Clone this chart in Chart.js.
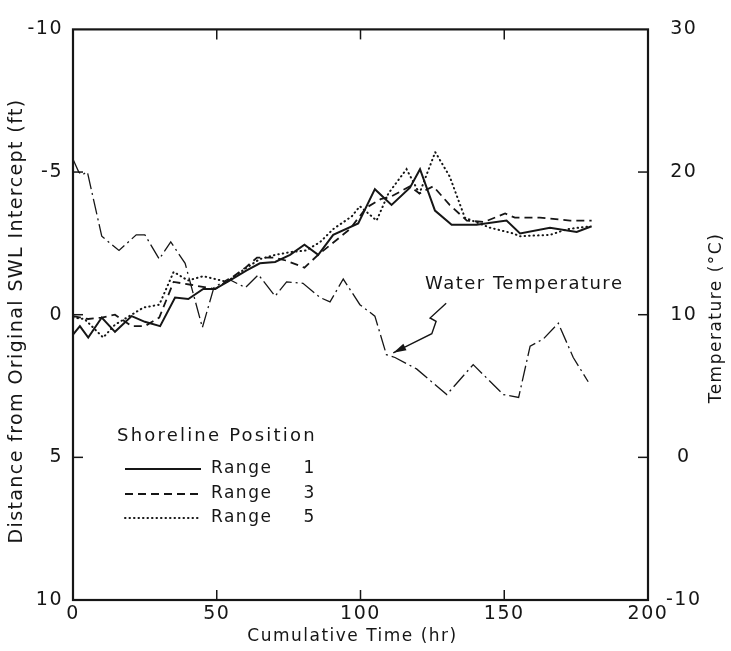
<!DOCTYPE html>
<html lang="en">
<head>
<meta charset="utf-8">
<title>Shoreline Position</title>
<script src="https://cdn.jsdelivr.net/npm/chart.js@4.4.1/dist/chart.umd.min.js"></script>
<style>
    html, body { margin: 0; padding: 0; background: #fff; }
    #contenedor { position: relative; width: 731px; height: 651px; }
</style>
</head>
<body>
<div id="contenedor"><canvas id="grafico" width="731" height="651"></canvas></div>
<script>
// Datos (horas acumuladas, distancia en ft, temperatura en °C)
const horasRango1 = [0, 2.4, 5.3, 10, 14.6, 20.4, 25, 30.3, 35.5, 40.1, 45.3, 49.4, 54.6, 60.4, 65, 70.3, 75.5, 80.5, 85.3, 90.5, 99.2, 105, 110.8, 117.2, 120.7, 125.9, 131.7, 140.4, 150.8, 155.5, 165.9, 175.2, 180.4];
const distRango1 = [0.7, 0.4, 0.8, 0.1, 0.6, 0.05, 0.25, 0.4, -0.6, -0.55, -0.9, -0.9, -1.2, -1.55, -1.8, -1.85, -2.1, -2.45, -2.1, -2.8, -3.2, -4.4, -3.85, -4.45, -5.1, -3.65, -3.15, -3.15, -3.3, -2.85, -3.05, -2.9, -3.1];

const horasRango3 = [0, 5.3, 10, 14.6, 20.4, 25, 30, 35, 41, 49.4, 54.6, 60, 64, 70, 74, 80.5, 85.3, 96.3, 102, 107, 110.8, 117.2, 120.5, 125.3, 131, 137, 143, 150.3, 153.7, 162.4, 172.9, 180.4];
const distRango3 = [0.05, 0.15, 0.1, 0, 0.4, 0.4, 0.1, -1.15, -1.05, -0.9, -1.25, -1.65, -2.0, -2.0, -1.9, -1.65, -2.1, -3.0, -3.75, -4.05, -4.15, -4.5, -4.25, -4.5, -3.85, -3.3, -3.25, -3.55, -3.4, -3.4, -3.3, -3.3];

const horasRango5 = [0, 4, 10.5, 14.6, 20.4, 24.5, 30, 35, 40, 45.3, 53.5, 60.4, 65, 70.5, 76, 81, 86, 90.5, 97, 99.8, 105.6, 109.7, 116, 120.5, 126, 131, 136.3, 145, 153, 155.5, 166, 172, 180];
const distRango5 = [0.1, 0.15, 0.8, 0.35, 0, -0.25, -0.35, -1.5, -1.2, -1.35, -1.15, -1.65, -1.95, -2.1, -2.2, -2.25, -2.55, -3.0, -3.45, -3.8, -3.3, -4.25, -5.1, -4.25, -5.7, -4.85, -3.4, -3.05, -2.85, -2.75, -2.8, -3.0, -3.1];

const horasTemp = [0, 2, 3, 5, 10, 16, 22, 25, 30, 34, 39, 45, 49, 54, 60, 64.5, 70.3, 74.3, 80, 86, 89.4, 94, 99.8, 105, 109, 112, 119.5, 130, 139.2, 149.7, 155, 159, 163.6, 168.8, 174, 179.2];
const tempAgua = [20.9, 20.0, 19.8, 20.0, 15.5, 14.5, 15.6, 15.6, 13.9, 15.1, 13.6, 9.1, 11.9, 12.5, 11.9, 12.8, 11.3, 12.3, 12.2, 11.2, 10.9, 12.5, 10.7, 9.9, 7.2, 7.0, 6.2, 4.4, 6.5, 4.4, 4.2, 7.8, 8.3, 9.4, 7.0, 5.3];

// Marcas de los ejes
const ticksX = [0, 50, 100, 150, 200];
const ticksIzq = [-10, -5, 0, 5, 10];
const ticksDer = [-10, 0, 10, 20, 30];

// Rotulos
const tituloX = 'Cumulative Time (hr)';
const tituloIzq = 'Distance from Original SWL Intercept (ft)';
const tituloDer = 'Temperature (°C)';
const tituloLeyenda = 'Shoreline Position';
const nombresRango = ['Range', 'Range', 'Range'];
const numerosRango = ['1', '3', '5'];
const textoTemp = 'Water Temperature';

// Flecha de "Water Temperature" en unidades de datos (horas, °C)
const flechaHoras = [129.8, 124.2, 126.3, 124.8, 116.1, 111.4];
const flechaTemp = [10.8, 9.77, 9.54, 8.67, 7.8, 7.33];

const TINTA = '#161616';
const FUENTE = "'DejaVu Sans', sans-serif";

function pares(xs, ys) {
    return xs.map((x, i) => ({ x: x, y: ys[i] }));
}

/**
 * Espaciado de letras para las etiquetas de los ejes
 */
const pluginEspaciado = {
    id: 'espaciado',
    beforeLayout(chart) { chart.ctx.letterSpacing = '1.5px'; },
    beforeDraw(chart) { chart.ctx.letterSpacing = '1.5px'; }
};

/**
 * Marco del area y marcas hacia dentro
 */
const pluginMarco = {
    id: 'marco',
    afterDatasetsDraw(chart) {
        const { ctx, chartArea: a, scales } = chart;
        ctx.save();
        ctx.strokeStyle = TINTA;
        ctx.lineWidth = 2.2;
        ctx.strokeRect(a.left, a.top, a.right - a.left, a.bottom - a.top);

        ctx.lineWidth = 1.5;
        const largo = 10;
        const linea = (x1, y1, x2, y2) => {
            ctx.beginPath();
            ctx.moveTo(x1, y1);
            ctx.lineTo(x2, y2);
            ctx.stroke();
        };
        ticksX.slice(1, -1).forEach(v => {
            const px = scales.x.getPixelForValue(v);
            linea(px, a.bottom, px, a.bottom - largo);
            linea(px, a.top, px, a.top + largo);
        });
        ticksIzq.slice(1, -1).forEach(v => {
            const py = scales.y.getPixelForValue(v);
            linea(a.left, py, a.left + largo, py);
        });
        ticksDer.slice(1, -1).forEach(v => {
            const py = scales.y2.getPixelForValue(v);
            linea(a.right, py, a.right - largo, py);
        });
        ctx.restore();
    }
};

/**
 * Texto con tamaño y espaciado propios
 */
function escribir(ctx, texto, x, y, tam, espacio, alinear, giro) {
    ctx.save();
    ctx.font = tam + 'px ' + FUENTE;
    ctx.letterSpacing = espacio + 'px';
    ctx.textAlign = alinear;
    ctx.textBaseline = 'middle';
    ctx.translate(x, y);
    if (giro) ctx.rotate(giro);
    ctx.fillText(texto, 0, 0);
    ctx.restore();
}

/**
 * Titulos, leyenda, rotulo de temperatura y flecha
 */
const pluginAnotaciones = {
    id: 'anotaciones',
    afterDraw(chart) {
        const { ctx, scales, chartArea: a } = chart;
        ctx.save();
        ctx.fillStyle = TINTA;
        ctx.strokeStyle = TINTA;

        // Titulos de ejes
        escribir(ctx, tituloX, (a.left + a.right) / 2 - 8, 637, 17, 1.5, 'center');
        escribir(ctx, tituloIzq, 17, 321, 19, 1.4, 'center', -Math.PI / 2);
        escribir(ctx, tituloDer, 717, 318, 17, 1.5, 'center', -Math.PI / 2);

        // Leyenda
        escribir(ctx, tituloLeyenda, 117, 436, 18, 2.2, 'left');
        const filas = [469, 494, 518];
        nombresRango.forEach((txt, i) => {
            const ds = chart.data.datasets[i];
            ctx.save();
            ctx.lineWidth = ds.borderWidth;
            ctx.setLineDash(ds.borderDash || []);
            ctx.lineCap = ds.borderCapStyle || 'butt';
            ctx.beginPath();
            ctx.moveTo(125, filas[i]);
            ctx.lineTo(201, filas[i]);
            ctx.stroke();
            ctx.restore();
            escribir(ctx, txt, 211, filas[i], 17, 1.5, 'left');
            escribir(ctx, numerosRango[i], 309, filas[i], 17, 0, 'center');
        });

        // Rotulo de temperatura del agua
        escribir(ctx, textoTemp, 425, 284, 18, 1.5, 'left');

        // Flecha
        const pts = flechaHoras.map((h, i) => [scales.x.getPixelForValue(h), scales.y2.getPixelForValue(flechaTemp[i])]);
        ctx.lineWidth = 1.4;
        ctx.beginPath();
        ctx.moveTo(pts[0][0], pts[0][1]);
        for (let i = 1; i < pts.length; i++) {
            ctx.lineTo(pts[i][0], pts[i][1]);
        }
        ctx.stroke();
        const punta = pts[pts.length - 1];
        const prev = pts[pts.length - 2];
        const ang = Math.atan2(punta[1] - prev[1], punta[0] - prev[0]);
        ctx.beginPath();
        ctx.moveTo(punta[0], punta[1]);
        ctx.lineTo(punta[0] - 13 * Math.cos(ang) + 3.5 * Math.sin(ang), punta[1] - 13 * Math.sin(ang) - 3.5 * Math.cos(ang));
        ctx.lineTo(punta[0] - 13 * Math.cos(ang) - 3.5 * Math.sin(ang), punta[1] - 13 * Math.sin(ang) + 3.5 * Math.cos(ang));
        ctx.closePath();
        ctx.fill();
        ctx.restore();
    }
};

Chart.defaults.font.family = FUENTE;
Chart.defaults.color = TINTA;

function crearGrafico() {
    const ctx = document.getElementById('grafico').getContext('2d');

    return new Chart(ctx, {
        type: 'line',
        data: {
            datasets: [
                {
                    label: 'Range 1',
                    data: pares(horasRango1, distRango1),
                    borderColor: TINTA,
                    borderWidth: 2,
                    yAxisID: 'y'
                },
                {
                    label: 'Range 3',
                    data: pares(horasRango3, distRango3),
                    borderColor: TINTA,
                    borderWidth: 1.8,
                    borderDash: [8, 5],
                    yAxisID: 'y'
                },
                {
                    label: 'Range 5',
                    data: pares(horasRango5, distRango5),
                    borderColor: TINTA,
                    borderWidth: 2,
                    borderDash: [0.5, 4],
                    borderCapStyle: 'round',
                    yAxisID: 'y'
                },
                {
                    label: 'Water Temperature',
                    data: pares(horasTemp, tempAgua),
                    borderColor: TINTA,
                    borderWidth: 1.3,
                    borderDash: [16, 4, 2, 4],
                    yAxisID: 'y2'
                }
            ]
        },
        options: {
            responsive: false,
            animation: false,
            devicePixelRatio: 1,
            layout: { padding: { top: 21, left: 0, right: 0, bottom: 0 } },
            elements: {
                point: { radius: 0 },
                line: { tension: 0, fill: false }
            },
            plugins: {
                legend: { display: false },
                tooltip: { enabled: false }
            },
            scales: {
                x: {
                    type: 'linear',
                    min: 0,
                    max: 200,
                    ticks: {
                        stepSize: 50,
                        padding: 3,
                        font: { size: 19 },
                        color: TINTA
                    },
                    grid: { display: false, drawTicks: false },
                    border: { display: false },
                    afterFit: function(scale) { scale.height = 51; }
                },
                y: {
                    type: 'linear',
                    position: 'left',
                    reverse: true,
                    min: -10,
                    max: 10,
                    ticks: {
                        stepSize: 5,
                        padding: 10,
                        font: { size: 19 },
                        color: TINTA
                    },
                    grid: { display: false, drawTicks: false },
                    border: { display: false },
                    afterFit: function(scale) { scale.width = 73; }
                },
                y2: {
                    type: 'linear',
                    position: 'right',
                    min: -10,
                    max: 30,
                    ticks: {
                        stepSize: 10,
                        padding: 18,
                        crossAlign: 'center',
                        font: { size: 19 },
                        color: TINTA
                    },
                    grid: { display: false, drawTicks: false },
                    border: { display: false },
                    afterFit: function(scale) { scale.width = 83; }
                }
            }
        },
        plugins: [pluginEspaciado, pluginMarco, pluginAnotaciones]
    });
}

crearGrafico();
</script>
</body>
</html>
